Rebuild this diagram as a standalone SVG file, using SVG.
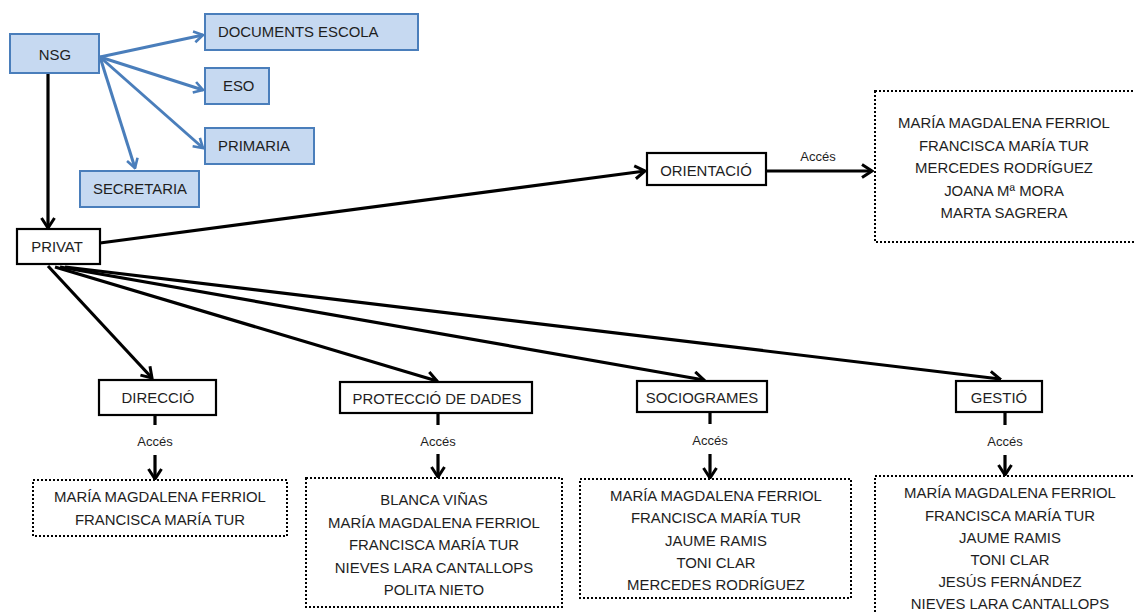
<svg xmlns="http://www.w3.org/2000/svg" width="1134" height="614" viewBox="0 0 1134 614">
<style>
text{font-family:"Liberation Sans",Arial,sans-serif;fill:#1e1e1e}
.lbl{font-size:14.9px}
.c{text-anchor:middle}
.acc{font-size:13px;text-anchor:middle}
.blue{fill:#c6d9f1;stroke:#4a7ebb;stroke-width:2}
.node{fill:#fff;stroke:#000;stroke-width:2.2}
.dot{fill:#fff;stroke:#000;stroke-width:2;stroke-dasharray:2 2}
.bl{stroke:#4a7ebb;stroke-width:3;fill:none}
.k{stroke:#000;stroke-width:3.2;fill:none}
</style>
<defs>
<marker id="ab" viewBox="0 0 12 14" refX="10.5" refY="7" markerWidth="12" markerHeight="14" markerUnits="userSpaceOnUse" orient="auto">
<path d="M1.5,1.5 L10.5,7 L1.5,12.5" fill="none" stroke="#4a7ebb" stroke-width="2.6"/>
</marker>
<marker id="ak" viewBox="0 0 13 16" refX="11.5" refY="8" markerWidth="13" markerHeight="16" markerUnits="userSpaceOnUse" orient="auto">
<path d="M1.5,1.5 L11.5,8 L1.5,14.5" fill="none" stroke="#000" stroke-width="3"/>
</marker>
</defs>

<g id="connectors">
<line class="bl" x1="100" y1="57" x2="203" y2="35" marker-end="url(#ab)"/>
<line class="bl" x1="100" y1="57" x2="203" y2="90" marker-end="url(#ab)"/>
<line class="bl" x1="100" y1="57" x2="203" y2="148" marker-end="url(#ab)"/>
<line class="bl" x1="100" y1="57" x2="135" y2="168" marker-end="url(#ab)"/>
<line class="k" x1="48" y1="73" x2="48" y2="228" marker-end="url(#ak)"/>
<line class="k" x1="100" y1="243" x2="645" y2="171" marker-end="url(#ak)"/>
<line class="k" x1="766" y1="171" x2="872" y2="171" marker-end="url(#ak)"/>
<line class="k" x1="48" y1="266" x2="152" y2="378" marker-end="url(#ak)"/>
<line class="k" x1="55" y1="267" x2="437" y2="381" marker-end="url(#ak)"/>
<line class="k" x1="60" y1="267" x2="704" y2="380" marker-end="url(#ak)"/>
<line class="k" x1="65" y1="267" x2="1000" y2="379" marker-end="url(#ak)"/>
<line class="k" x1="155" y1="415" x2="155" y2="425"/>
<line class="k" x1="155" y1="455" x2="155" y2="479" marker-end="url(#ak)"/>
<line class="k" x1="438" y1="413" x2="438" y2="425"/>
<line class="k" x1="438" y1="454" x2="438" y2="477" marker-end="url(#ak)"/>
<line class="k" x1="710" y1="412" x2="710" y2="424"/>
<line class="k" x1="710" y1="454" x2="710" y2="478" marker-end="url(#ak)"/>
<line class="k" x1="1005" y1="412" x2="1005" y2="425"/>
<line class="k" x1="1005" y1="455" x2="1005" y2="475" marker-end="url(#ak)"/>
<text class="acc" x="818" y="161">Accés</text>
<text class="acc" x="155" y="446">Accés</text>
<text class="acc" x="438" y="446">Accés</text>
<text class="acc" x="710" y="445">Accés</text>
<text class="acc" x="1005" y="446">Accés</text>
</g>

<g id="nsg"><rect class="blue" x="10" y="34" width="89" height="39"/><text class="lbl c" x="55" y="60">NSG</text></g>
<g id="documents"><rect class="blue" x="205" y="14" width="213" height="36"/><text class="lbl" x="218" y="37">DOCUMENTS ESCOLA</text></g>
<g id="eso"><rect class="blue" x="205" y="68" width="64" height="36"/><text class="lbl" x="223" y="91">ESO</text></g>
<g id="primaria"><rect class="blue" x="205" y="128" width="109" height="36"/><text class="lbl" x="218" y="151">PRIMARIA</text></g>
<g id="secretaria"><rect class="blue" x="80" y="171" width="119" height="36"/><text class="lbl" x="93" y="194">SECRETARIA</text></g>

<g id="privat"><rect class="node" x="17" y="229" width="83" height="35"/><text class="lbl c" x="57" y="252">PRIVAT</text></g>
<g id="orientacio"><rect class="node" x="647" y="153" width="119" height="32"/><text class="lbl c" x="706" y="176">ORIENTACIÓ</text></g>
<g id="direccio"><rect class="node" x="99" y="380" width="117" height="35"/><text class="lbl c" x="158" y="403">DIRECCIÓ</text></g>
<g id="proteccio"><rect class="node" x="340" y="382" width="192" height="31"/><text class="lbl c" x="437" y="404">PROTECCIÓ DE DADES</text></g>
<g id="sociogrames"><rect class="node" x="637" y="381" width="130" height="31"/><text class="lbl c" x="702" y="403">SOCIOGRAMES</text></g>
<g id="gestio"><rect class="node" x="956" y="381" width="86" height="31"/><text class="lbl c" x="999" y="403">GESTIÓ</text></g>

<g id="acces-orientacio"><rect class="dot" x="875" y="91" width="270" height="151"/>
<text class="lbl c" x="1004" y="128">MARÍA MAGDALENA FERRIOL</text>
<text class="lbl c" x="1004" y="150.5">FRANCISCA MARÍA TUR</text>
<text class="lbl c" x="1004" y="173">MERCEDES RODRÍGUEZ</text>
<text class="lbl c" x="1004" y="195.5">JOANA Mª MORA</text>
<text class="lbl c" x="1004" y="218">MARTA SAGRERA</text></g>

<g id="acces-direccio"><rect class="dot" x="33" y="480" width="254" height="56"/>
<text class="lbl c" x="160" y="502">MARÍA MAGDALENA FERRIOL</text>
<text class="lbl c" x="160" y="525">FRANCISCA MARÍA TUR</text></g>

<g id="acces-proteccio"><rect class="dot" x="306" y="478" width="256" height="129"/>
<text class="lbl c" x="434" y="505">BLANCA VIÑAS</text>
<text class="lbl c" x="434" y="528">MARÍA MAGDALENA FERRIOL</text>
<text class="lbl c" x="434" y="550">FRANCISCA MARÍA TUR</text>
<text class="lbl c" x="434" y="573">NIEVES LARA CANTALLOPS</text>
<text class="lbl c" x="434" y="595">POLITA NIETO</text></g>

<g id="acces-sociogrames"><rect class="dot" x="580" y="479" width="271" height="119"/>
<text class="lbl c" x="716" y="501">MARÍA MAGDALENA FERRIOL</text>
<text class="lbl c" x="716" y="523">FRANCISCA MARÍA TUR</text>
<text class="lbl c" x="716" y="546">JAUME RAMIS</text>
<text class="lbl c" x="716" y="568">TONI CLAR</text>
<text class="lbl c" x="716" y="590">MERCEDES RODRÍGUEZ</text></g>

<g id="acces-gestio"><rect class="dot" x="875" y="476" width="270" height="150"/>
<text class="lbl c" x="1010" y="498">MARÍA MAGDALENA FERRIOL</text>
<text class="lbl c" x="1010" y="521">FRANCISCA MARÍA TUR</text>
<text class="lbl c" x="1010" y="543">JAUME RAMIS</text>
<text class="lbl c" x="1010" y="565">TONI CLAR</text>
<text class="lbl c" x="1010" y="587">JESÚS FERNÁNDEZ</text>
<text class="lbl c" x="1010" y="609">NIEVES LARA CANTALLOPS</text></g>
</svg>
